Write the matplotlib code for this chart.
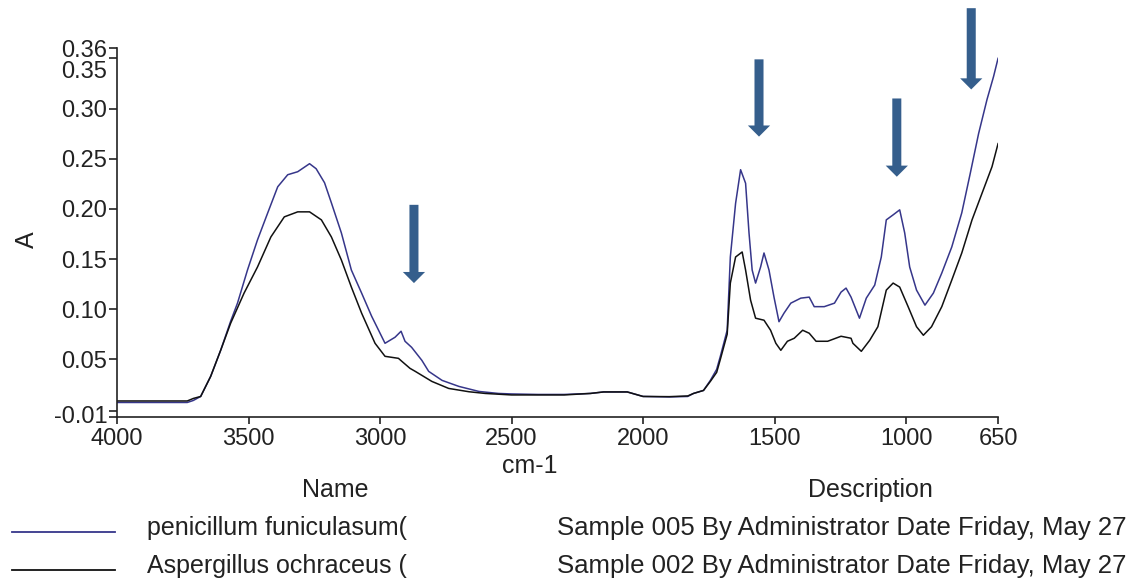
import matplotlib
matplotlib.use("Agg")
import matplotlib.pyplot as plt
from matplotlib.lines import Line2D
from matplotlib.transforms import Bbox, ScaledTranslation

plt.rcParams['font.family'] = ['Liberation Sans', 'DejaVu Sans']

# FTIR spectra (wavenumber in cm-1, absorbance)
wn_pen = [4000, 3800, 3733, 3710, 3682, 3644, 3606, 3568, 3542, 3504, 3466, 3427,
          3389, 3351, 3313, 3268, 3243, 3211, 3185, 3147, 3109, 3070, 3032, 2981,
          2943, 2920, 2905, 2880, 2841, 2815, 2764, 2700, 2624, 2550, 2500, 2400,
          2300, 2200, 2150, 2060, 2000, 1900, 1830, 1808, 1770, 1744, 1720, 1706,
          1680, 1668, 1648, 1629, 1610, 1597, 1585, 1572, 1553, 1540, 1521, 1502,
          1483, 1464, 1438, 1400, 1368, 1349, 1311, 1272, 1247, 1228, 1209, 1177,
          1151, 1119, 1094, 1075, 1049, 1024, 1005, 986, 960, 928, 896, 864, 826,
          788, 756, 724, 692, 667, 650]
abs_pen = [0.007, 0.007, 0.007, 0.009, 0.013, 0.033, 0.059, 0.088, 0.106, 0.139, 0.169, 0.196,
           0.222, 0.234, 0.237, 0.245, 0.240, 0.226, 0.206, 0.176, 0.139, 0.116, 0.093, 0.066,
           0.072, 0.078, 0.068, 0.062, 0.049, 0.038, 0.029, 0.023, 0.018, 0.016, 0.0155, 0.015,
           0.015, 0.016, 0.0175, 0.0175, 0.013, 0.0125, 0.013, 0.016, 0.019, 0.029, 0.040, 0.053,
           0.079, 0.152, 0.2055, 0.239, 0.2255, 0.176, 0.139, 0.126, 0.142, 0.156, 0.139, 0.112,
           0.0875, 0.096, 0.106, 0.111, 0.112, 0.1025, 0.1025, 0.106, 0.117, 0.121, 0.112, 0.091,
           0.111, 0.124, 0.152, 0.189, 0.194, 0.199, 0.176, 0.142, 0.119, 0.104, 0.116, 0.136, 0.162,
           0.196, 0.235, 0.275, 0.309, 0.332, 0.350]

wn_asp = [4000, 3733, 3710, 3682, 3644, 3606, 3568, 3517, 3466, 3415, 3364, 3313,
          3268, 3223, 3185, 3147, 3109, 3070, 3019, 2981, 2930, 2917, 2886, 2866,
          2803, 2739, 2662, 2600, 2500, 2300, 2200, 2150, 2060, 2000, 1900, 1830,
          1808, 1770, 1744, 1720, 1706, 1680, 1668, 1648, 1623, 1610, 1591, 1572,
          1540, 1515, 1495, 1476, 1451, 1425, 1393, 1368, 1342, 1298, 1247, 1209,
          1202, 1170, 1138, 1107, 1075, 1049, 1024, 992, 960, 934, 903, 864, 826,
          788, 749, 711, 673, 650]
abs_asp = [0.0085, 0.0085, 0.011, 0.013, 0.033, 0.059, 0.086, 0.116, 0.142, 0.172, 0.192, 0.197,
           0.197, 0.189, 0.172, 0.149, 0.122, 0.096, 0.066, 0.053, 0.051, 0.048, 0.041, 0.038,
           0.028, 0.021, 0.0177, 0.016, 0.0145, 0.0145, 0.016, 0.0175, 0.0175, 0.013, 0.0128, 0.0135,
           0.016, 0.019, 0.028, 0.037, 0.050, 0.075, 0.126, 0.152, 0.157, 0.139, 0.109, 0.091,
           0.089, 0.079, 0.066, 0.059, 0.068, 0.071, 0.079, 0.076, 0.068, 0.068, 0.073, 0.071,
           0.066, 0.058, 0.069, 0.0825, 0.119, 0.126, 0.122, 0.1025, 0.0825, 0.074, 0.0825, 0.1025, 0.129,
           0.156, 0.189, 0.2155, 0.242, 0.265]

names = ['penicillum funiculasum(', 'Aspergillus ochraceus (']
descriptions = ['Sample 005 By Administrator Date Friday, May 27',
                'Sample 002 By Administrator Date Friday, May 27']
colors = ['#36368a', '#111111']

# arrows marking the bands: (wavenumber, tail, tip)
arrow_x = [2871, 1559, 1035, 752]
arrow_tail = [0.204, 0.349, 0.310, 0.400]
arrow_tip = [0.126, 0.272, 0.232, 0.319]

xticks = [4000, 3500, 3000, 2500, 2000, 1500, 1000, 650]
ymin, ymax = -0.0075, 0.36
yticks = [ymin, -0.0015, 0.05, 0.10, 0.15, 0.20, 0.25, 0.30, 0.35, 0.36]
ylabels = ['', '-0.01', '0.05', '0.10', '0.15', '0.20', '0.25', '0.30', '0.35', '0.36']

fig = plt.figure(figsize=(11.33, 5.8), dpi=100)
ax = fig.add_axes([0.1033, 0.281, 0.7776, 0.6357])

ax.plot(wn_pen, abs_pen, color=colors[0], lw=1.1)
ax.plot(wn_asp, abs_asp, color=colors[1], lw=1.1)

ax.set_xlim(4000, 650)
ax.set_ylim(ymin, ymax)
ax.set_xticks(xticks)
ax.set_xticklabels([str(t) for t in xticks])
ax.set_yticks(yticks)
ax.set_yticklabels(ylabels)

for s in ['top', 'right']:
    ax.spines[s].set_visible(False)
for s in ['left', 'bottom']:
    ax.spines[s].set_linewidth(1.2)
    ax.spines[s].set_color('#222222')
ax.tick_params(axis='y', length=6, width=1.2, labelsize=17, pad=1, colors='#222222')
ax.tick_params(axis='x', length=5, width=1.2, labelsize=17, pad=3, colors='#222222')

# nudge crowded labels apart (0.35 sits just under 0.36)
ylab = ax.get_yticklabels()
ylab[8].set_transform(ylab[8].get_transform() + ScaledTranslation(0, -0.11, fig.dpi_scale_trans))
ylab[1].set_transform(ylab[1].get_transform() + ScaledTranslation(0, -0.03, fig.dpi_scale_trans))

ax.set_xlabel('cm-1', fontsize=18, color='#222222')
ax.xaxis.set_label_coords(0.469, -0.1)
ax.set_ylabel('A', fontsize=18, color='#222222')
ax.yaxis.set_label_coords(-0.089, 0.48)

for x, y0, y1 in zip(arrow_x, arrow_tail, arrow_tip):
    ax.annotate('', xy=(x, y1), xytext=(x, y0), annotation_clip=False,
                arrowprops=dict(facecolor='#355e8c', edgecolor='none',
                                width=6.5, headwidth=16, headlength=8, shrink=0))

# sample table underneath
fig.text(335 / 1133, 1 - 490 / 580, 'Name', fontsize=18, ha='center', va='center', color='#222222')
fig.text(870 / 1133, 1 - 490 / 580, 'Description', fontsize=18, ha='center', va='center', color='#222222')
clip = Bbox.from_extents(0, 0, 410, 580)
for i, (name, desc, c) in enumerate(zip(names, descriptions, colors)):
    yrow = 1 - (528 + 38 * i) / 580
    fig.add_artist(Line2D([12 / 1133, 115 / 1133], [yrow - 4 / 580, yrow - 4 / 580],
                          color=c, lw=1.3, transform=fig.transFigure))
    t = fig.text(147 / 1133, yrow, name, fontsize=18, ha='left', va='center', color='#222222')
    t.set_clip_box(clip)
    fig.text(557 / 1133, yrow, desc, fontsize=18.5, ha='left', va='center', color='#222222')

fig.savefig('out.png', dpi=100)
